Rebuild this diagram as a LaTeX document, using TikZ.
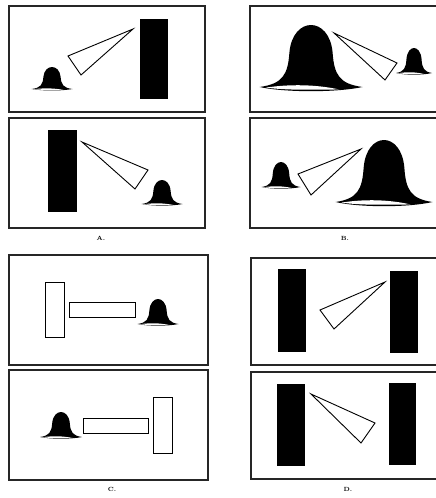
\documentclass[tikz,border=0pt]{standalone}
\usetikzlibrary{positioning}

\tikzset{
  framebox/.style={draw=black!85, line width=1.4pt},
  blackbar/.style={fill=black},
  whitebar/.style={draw=black, line width=0.9pt, fill=white},
  wedgeline/.style={draw=black, line width=0.9pt, fill=white, line join=miter},
  caption/.style={font=\fontsize{6}{7}\selectfont\bfseries, inner sep=0pt},
  bell/.pic={
    \fill[black] (-1,0) .. controls (-0.55,-0.05) and (-0.45,-0.2) .. (-0.42,-0.55)
      .. controls (-0.36,-1.15) and (0.36,-1.15) .. (0.42,-0.55)
      .. controls (0.45,-0.2) and (0.55,-0.05) .. (1,0)
      .. controls (0.5,0.09) and (-0.5,0.09) .. cycle;
    \fill[white] (-0.88,0.01) .. controls (-0.4,-0.05) and (0.1,-0.04) .. (0.55,0.04)
      .. controls (0.1,0.04) and (-0.4,0.06) .. cycle;
  }
}

\begin{document}
\begin{tikzpicture}[x=1pt, y=-1pt]

\useasboundingbox (0,0) rectangle (436,498);
\clip (0,0) rectangle (436,498);

% Draw the panel frames
\foreach \xa/\xb/\ya/\yb in {9/205/6/112, 9/205/118/228, 250/440/6/112, 250/440/118/228,
                             9/208/255/365, 9/208/370/480, 251/440/258/365, 251/440/372/479}
{
    \draw[framebox] (\xa,\ya) rectangle (\xb,\yb);
}

% A (top)
\fill[blackbar] (140,19) rectangle (168,99);
\draw[wedgeline] (133,29) -- (68,56) -- (81,75) -- cycle;
\pic[xscale=20.5, yscale=22] at (52,89) {bell};

% A (bottom)
\fill[blackbar] (48,130) rectangle (77,212);
\draw[wedgeline] (82,142) -- (148,170) -- (135,189) -- cycle;
\pic[xscale=20.5, yscale=24] at (162,204) {bell};

% B (top)
\pic[xscale=51.5, yscale=62] at (311,87) {bell};
\draw[wedgeline] (334,33) -- (397,63) -- (385,80) -- cycle;
\pic[xscale=18, yscale=25] at (414,73) {bell};

% B (bottom)
\pic[xscale=19.5, yscale=25] at (281,187) {bell};
\draw[wedgeline] (361,149) -- (298,174) -- (311,195) -- cycle;
\pic[xscale=48.5, yscale=62] at (384,202) {bell};

% C (top)
\draw[whitebar] (45,282) rectangle (64,337);
\draw[whitebar] (69,302) rectangle (135,317);
\pic[xscale=20.5, yscale=25] at (158,324) {bell};

% C (bottom)
\pic[xscale=21, yscale=25] at (61,437) {bell};
\draw[whitebar] (83,418) rectangle (148,433);
\draw[whitebar] (153,397) rectangle (172,453);

% D (top)
\fill[blackbar] (278,269) rectangle (306,352);
\fill[blackbar] (390,271) rectangle (418,353);
\draw[wedgeline] (385,282) -- (320,310) -- (334,329) -- cycle;

% D (bottom)
\fill[blackbar] (277,384) rectangle (305,466);
\fill[blackbar] (389,383) rectangle (416,465);
\draw[wedgeline] (311,394) -- (375,423) -- (361,443) -- cycle;

% Captions
\node[caption] (labA) at (101,238) {A.};
\node[caption] (labB) at (345,238) {B.};
\node[caption] (labC) at (112,489) {C.};
\node[caption] (labD) at (348,489) {D.};

\end{tikzpicture}
\end{document}
